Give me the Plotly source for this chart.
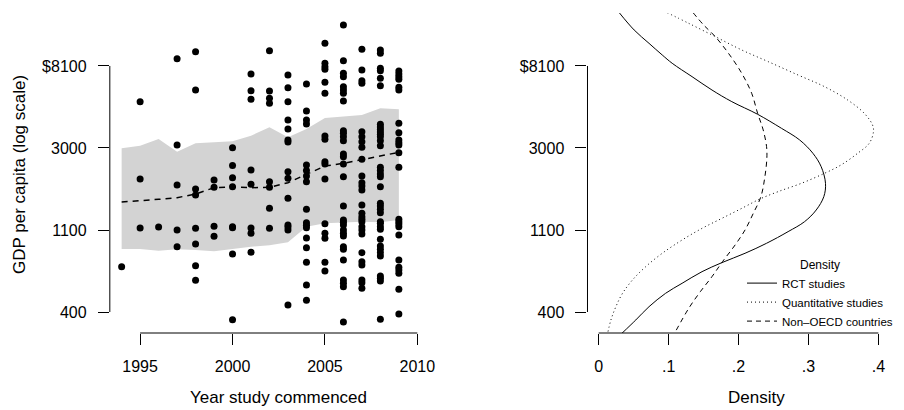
import plotly.graph_objects as go

# ---------------- data (log GDP per capita, natural log) ----------------
years = [1994, 1995, 1996, 1997, 1998, 1999, 2000, 2001,
         2002, 2003, 2004, 2005, 2006, 2007, 2008, 2009]

band_upper = [7.996, 8.028, 8.110, 7.955, 8.057, 8.065, 8.081, 8.150,
              8.252, 8.130, 8.232, 8.366, 8.386, 8.402, 8.484, 8.472]
band_lower = [6.768, 6.768, 6.748, 6.764, 6.756, 6.740, 6.768, 6.797,
              6.813, 6.850, 7.041, 7.081, 7.089, 7.101, 7.093, 7.122]
trend = [7.341, 7.362, 7.374, 7.394, 7.439, 7.516, 7.524, 7.516,
         7.520, 7.577, 7.683, 7.780, 7.813, 7.858, 7.902, 7.947]

log_gdp_points = [
    [6.553],
    [8.565, 7.622, 7.024],
    [7.037],
    [9.089, 8.037, 7.549, 7.000, 6.797],
    [9.175, 8.707, 7.500, 7.427, 7.020, 6.829, 6.565, 6.386],
    [7.610, 7.520, 7.045, 6.923],
    [8.004, 7.785, 7.638, 7.528, 7.041, 7.028, 6.707, 5.907],
    [8.902, 8.699, 8.593, 7.732, 7.557, 7.024, 6.959, 6.728],
    [9.187, 8.695, 8.606, 8.545, 7.589, 7.520, 7.264, 7.020],
    [8.890, 8.736, 8.565, 8.341, 8.232, 8.098, 8.073, 7.711, 7.630, 7.386,
     7.061, 7.037, 7.000, 6.085],
    [8.780, 8.451, 8.341, 8.293, 7.793, 7.724, 7.659, 7.589, 7.252, 7.089,
     7.057, 7.028, 6.902, 6.785, 6.606, 6.329, 6.142],
    [9.276, 9.033, 8.992, 8.959, 8.801, 8.667, 8.146, 8.106, 7.833, 7.805,
     7.622, 7.077, 6.959, 6.898, 6.606, 6.500],
    [9.500, 9.065, 8.911, 8.870, 8.748, 8.707, 8.667, 8.573, 8.211, 8.179,
     8.138, 8.089, 7.927, 7.894, 7.805, 7.650, 7.293, 7.122, 7.093, 7.061,
     7.000, 6.959, 6.927, 6.797, 6.764, 6.634, 6.390, 6.350, 6.309, 5.878],
    [9.203, 8.951, 8.821, 8.789, 8.199, 8.138, 8.077, 8.008, 7.862, 7.659,
     7.577, 7.537, 7.488, 7.305, 7.203, 7.163, 7.130, 7.102, 7.041, 7.000,
     6.951, 6.724, 6.614, 6.573, 6.390, 6.358, 6.289],
    [9.195, 9.154, 8.972, 8.943, 8.850, 8.760, 8.289, 8.256, 8.224, 8.195,
     8.167, 8.138, 8.089, 8.028, 7.764, 7.724, 7.683, 7.650, 7.528, 7.325,
     7.293, 7.252, 7.211, 7.102, 7.081, 7.041, 7.008, 6.886, 6.805, 6.764,
     6.724, 6.683, 6.439, 6.411, 6.378, 5.911],
    [8.939, 8.902, 8.870, 8.837, 8.740, 8.707, 8.301, 8.187, 8.098, 8.065,
     8.037, 7.943, 7.764, 7.130, 7.102, 7.073, 7.041, 6.939, 6.634, 6.545,
     6.512, 6.472, 6.276, 5.976],
]

# density curves (density value, log GDP)
rct_density = [0.0294, 0.0507, 0.0720, 0.0909, 0.1051, 0.1335, 0.1620, 0.1904,
               0.2273, 0.2614, 0.2874, 0.3064, 0.3182, 0.3244, 0.3220, 0.3111,
               0.2945, 0.2709, 0.2401, 0.2093, 0.1762, 0.1478, 0.1193, 0.0957,
               0.0720, 0.0531, 0.0332]
rct_log_gdp = [9.650, 9.439, 9.276, 9.134, 9.033, 8.870, 8.707, 8.565,
               8.411, 8.240, 8.098, 7.935, 7.772, 7.569, 7.407, 7.244,
               7.102, 6.980, 6.838, 6.716, 6.602, 6.492, 6.350, 6.228,
               6.065, 5.903, 5.740]

quant_density = [0.0980, 0.1288, 0.1667, 0.2046, 0.2424, 0.2851, 0.3229, 0.3561,
                 0.3798, 0.3916, 0.3930, 0.3869, 0.3703, 0.3466, 0.3229, 0.2898,
                 0.2567, 0.2306, 0.2046, 0.1762, 0.1478, 0.1193, 0.0909, 0.0673,
                 0.0483, 0.0341, 0.0246, 0.0175, 0.0128]
quant_log_gdp = [9.650, 9.520, 9.358, 9.195, 9.053, 8.890, 8.748, 8.585,
                 8.423, 8.281, 8.199, 8.057, 7.935, 7.793, 7.691, 7.569,
                 7.468, 7.378, 7.264, 7.142, 7.020, 6.878, 6.716, 6.553,
                 6.390, 6.228, 6.065, 5.903, 5.740]

oecd_density = [0.1350, 0.1501, 0.1667, 0.1856, 0.2046, 0.2188, 0.2273, 0.2353,
                0.2401, 0.2405, 0.2377, 0.2320, 0.2211, 0.2093, 0.1951, 0.1771,
                0.1620, 0.1454, 0.1288, 0.1085]
oecd_log_gdp = [9.650, 9.500, 9.358, 9.155, 8.911, 8.667, 8.423, 8.220,
                8.016, 7.874, 7.650, 7.407, 7.203, 7.000, 6.817, 6.614,
                6.431, 6.248, 6.045, 5.740]

y_tickvals = [6, 7, 8, 9]
y_ticktext = ["400", "1100", "3000", "$8100"]
x_tickvals = [1995, 2000, 2005, 2010]
d_tickvals = [0, 0.1, 0.2, 0.3, 0.4]
d_ticktext = ["0", ".1", ".2", ".3", ".4"]

# ---------------- layout helpers ----------------
# The page body has an 8px margin, so the figure is made 8px smaller and
# window-pixel positions are shifted by that offset.
OFF = 8
W, H = 904 - OFF, 410 - OFF
FONT = "Liberation Sans, Arial, Helvetica, sans-serif"


def px_x(x):
    return (x - OFF) / W


def px_y(y):
    return (H - (y - OFF)) / H


pts_x, pts_y = [], []
for yr, vals in zip(years, log_gdp_points):
    for v in vals:
        pts_x.append(yr)
        pts_y.append(v)

fig = go.Figure()

fig.add_trace(go.Scatter(
    x=years + years[::-1], y=band_upper + band_lower[::-1],
    fill="toself", fillcolor="#D3D3D3", line=dict(width=0),
    mode="lines", hoverinfo="skip", showlegend=False, xaxis="x", yaxis="y"))

fig.add_trace(go.Scatter(
    x=years, y=trend, mode="lines",
    line=dict(color="black", width=1.5, dash="6px,5px"),
    showlegend=False, xaxis="x", yaxis="y"))

fig.add_trace(go.Scatter(
    x=pts_x, y=pts_y, mode="markers",
    marker=dict(color="black", size=7, line=dict(width=0)),
    showlegend=False, xaxis="x", yaxis="y"))

fig.add_trace(go.Scatter(
    x=rct_density, y=rct_log_gdp, mode="lines", name="RCT studies",
    line=dict(color="black", width=1, shape="spline"),
    xaxis="x2", yaxis="y2"))
fig.add_trace(go.Scatter(
    x=quant_density, y=quant_log_gdp, mode="lines", name="Quantitative studies",
    line=dict(color="black", width=1, dash="1px,3px", shape="spline"),
    xaxis="x2", yaxis="y2"))
fig.add_trace(go.Scatter(
    x=oecd_density, y=oecd_log_gdp, mode="lines", name="Non\u2013OECD countries",
    line=dict(color="black", width=1, dash="5px,4px", shape="spline"),
    xaxis="x2", yaxis="y2"))

ydom = [px_y(333), px_y(13)]
yrange = [5.744, 9.646]

common_axis = dict(showgrid=False, zeroline=False, showline=False,
                   ticks="outside", ticklen=11, tickwidth=1, tickcolor="black",
                   tickfont=dict(family=FONT, size=16, color="black"))

fig.update_layout(
    width=W, height=H,
    margin=dict(l=0, r=0, t=0, b=0),
    paper_bgcolor="white", plot_bgcolor="white",
    font=dict(family=FONT, size=16, color="black"),
    xaxis=dict(domain=[px_x(110.5), px_x(432)], range=[1993.36, 2010.64],
               tickvals=x_tickvals, anchor="y", ticklabelstandoff=8, **common_axis),
    yaxis=dict(domain=ydom, range=yrange, tickvals=y_tickvals, ticktext=y_ticktext,
               anchor="x", ticklabelstandoff=8, **common_axis),
    xaxis2=dict(domain=[px_x(591.4), px_x(895.5)], range=[-0.016, 0.416],
                tickvals=d_tickvals, ticktext=d_ticktext, anchor="y2",
                ticklabelstandoff=8, **common_axis),
    yaxis2=dict(domain=ydom, range=yrange, tickvals=y_tickvals, ticktext=y_ticktext,
                anchor="x2", ticklabelstandoff=8, **common_axis),
    legend=dict(x=1.0, xanchor="right", y=px_y(253), yanchor="top",
                bgcolor="rgba(0,0,0,0)", borderwidth=0,
                font=dict(family=FONT, size=11.5, color="black"),
                title=dict(text="Density", side="top center",
                           font=dict(family=FONT, size=12, color="black"))),
    showlegend=True,
)

axis_line = dict(color="black", width=1)
fig.add_shape(type="line", xref="x domain", yref="y", x0=0, x1=0,
              y0=y_tickvals[0], y1=y_tickvals[-1], line=axis_line)
fig.add_shape(type="line", xref="x", yref="y domain", x0=x_tickvals[0],
              x1=x_tickvals[-1], y0=0, y1=0, line=axis_line)
fig.add_shape(type="line", xref="x2 domain", yref="y2", x0=0, x1=0,
              y0=y_tickvals[0], y1=y_tickvals[-1], line=axis_line)
fig.add_shape(type="line", xref="x2", yref="y2 domain", x0=d_tickvals[0],
              x1=d_tickvals[-1], y0=0, y1=0, line=axis_line)

title_font = dict(family=FONT, size=17, color="black")
fig.add_annotation(text="GDP per capita (log scale)", xref="paper", yref="paper",
                   x=px_x(19), y=px_y(174), textangle=-90, showarrow=False,
                   xanchor="center", yanchor="middle", font=title_font)
fig.add_annotation(text="Year study commenced", xref="paper", yref="paper",
                   x=px_x(280), y=px_y(397), showarrow=False,
                   xanchor="center", yanchor="middle", font=title_font)
fig.add_annotation(text="Density", xref="paper", yref="paper",
                   x=px_x(761.5), y=px_y(397), showarrow=False,
                   xanchor="center", yanchor="middle", font=title_font)

fig.write_html("out.html")
